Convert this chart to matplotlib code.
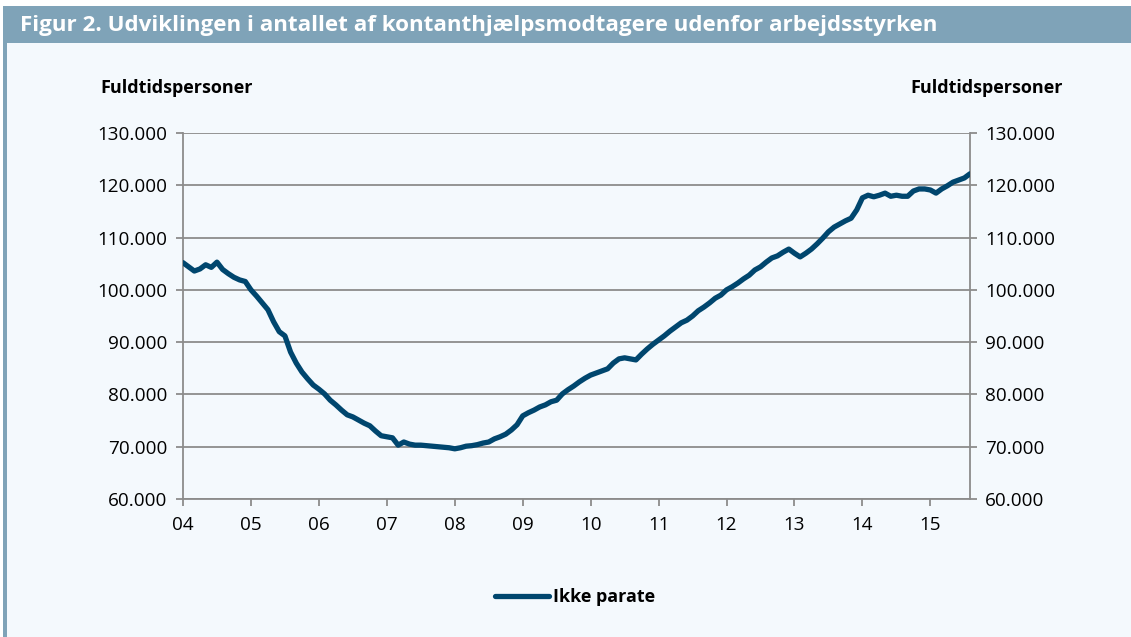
import numpy as np
import matplotlib
matplotlib.use("Agg")
import matplotlib.pyplot as plt
from matplotlib.patches import Rectangle
from matplotlib.ticker import FuncFormatter

# Ikke parate, fuldtidspersoner (1.000), monthly jan 2004 - aug 2015
ikke_parate = [
    105.2, 104.4, 103.6, 104.0, 104.8, 104.3, 105.3, 103.9, 103.1, 102.4, 101.9, 101.6,  # 04
    100.0, 98.8, 97.5, 96.2, 93.9, 92.0, 91.2, 88.1, 86.0, 84.3, 83.0, 81.8,  # 05
    81.0, 80.1, 78.9, 78.0, 77.0, 76.1, 75.7, 75.1, 74.5, 74.0, 73.0, 72.1,  # 06
    71.9, 71.7, 70.3, 70.9, 70.5, 70.3, 70.3, 70.2, 70.1, 70.0, 69.9, 69.8,  # 07
    69.6, 69.8, 70.1, 70.2, 70.4, 70.7, 70.9, 71.5, 71.9, 72.4, 73.2, 74.2,  # 08
    75.9, 76.5, 77.0, 77.6, 78.0, 78.6, 78.9, 80.1, 80.9, 81.6, 82.4, 83.1,  # 09
    83.7, 84.1, 84.5, 84.9, 86.0, 86.8, 87.0, 86.8, 86.6, 87.7, 88.7, 89.6,  # 10
    90.4, 91.2, 92.1, 92.9, 93.7, 94.2, 95.0, 96.0, 96.7, 97.5, 98.4, 99.0,  # 11
    100.0, 100.6, 101.3, 102.1, 102.8, 103.8, 104.4, 105.3, 106.1, 106.5, 107.2, 107.8,  # 12
    107.0, 106.3, 107.0, 107.8, 108.8, 109.9, 111.1, 112.0, 112.6, 113.2, 113.7, 115.3,  # 13
    117.6, 118.1, 117.8, 118.1, 118.5, 117.9, 118.1, 117.9, 117.9, 118.9, 119.3, 119.3,  # 14
    119.1, 118.5, 119.3, 119.9, 120.6, 121.0, 121.4, 122.2,  # 15
]
year_labels = ["04", "05", "06", "07", "08", "09", "10", "11", "12", "13", "14", "15"]
y_ticks = [60000, 70000, 80000, 90000, 100000, 110000, 120000, 130000]

values = np.array(ikke_parate) * 1000
months = np.arange(len(values))

bg = "#F4F9FD"
bar_col = "#7FA3B8"
line_col = "#00466E"
grid_col = "#8C8C8C"
font = "Open Sans"

fig = plt.figure(figsize=(11.31, 6.37), dpi=100)
fig.patch.set_facecolor("white")

# panel background, title band and left border
fig.patches.append(Rectangle((3 / 1131, 0), 1, 1 - 43 / 637, transform=fig.transFigure,
                             facecolor=bg, edgecolor="none", zorder=-3))
fig.patches.append(Rectangle((3 / 1131, 1 - 43 / 637), 1, 37 / 637, transform=fig.transFigure,
                             facecolor=bar_col, edgecolor="none", zorder=-2))
fig.patches.append(Rectangle((3 / 1131, 0), 4 / 1131, 1 - 6 / 637, transform=fig.transFigure,
                             facecolor=bar_col, edgecolor="none", zorder=-2))
fig.text(20 / 1131, 1 - 25 / 637, "Figur 2. Udviklingen i antallet af kontanthjælpsmodtagere udenfor arbejdsstyrken",
         color="white", fontsize=16.15, fontweight="bold", family=font, va="center", ha="left")

ax = fig.add_axes([183 / 1131, 1 - 499 / 637, (970 - 183) / 1131, (499 - 133) / 637])
ax.set_zorder(2)
ax.set_facecolor(bg)
ax.plot(months, values, color=line_col, lw=3.8, solid_joinstyle="round", solid_capstyle="round",
        label="Ikke parate", zorder=3)

ax.set_xlim(0, len(values) - 1)
ax.set_ylim(60000, 130000)
ax.set_xticks(np.arange(0, 12 * len(year_labels), 12))
ax.set_xticklabels(year_labels)
ax.set_yticks(y_ticks)
fmt = FuncFormatter(lambda v, p: f"{int(v):,}".replace(",", "."))
ax.yaxis.set_major_formatter(fmt)
ax.grid(axis="y", color=grid_col, lw=1.3)
ax.set_axisbelow(True)

for side in ["left", "right", "bottom"]:
    ax.spines[side].set_color(grid_col)
    ax.spines[side].set_linewidth(1.3)
ax.spines["top"].set_visible(False)

ax.tick_params(axis="both", colors=grid_col, labelcolor="black", labelsize=13.6, width=1.3, length=5)
ax.tick_params(axis="y", right=True, labelright=True, pad=6)
ax.tick_params(axis="x", pad=7)
for lab in ax.get_xticklabels() + ax.get_yticklabels():
    lab.set_family(font)

fig.text(100 / 1131, 1 - 88 / 637, "Fuldtidspersoner", fontsize=13, fontweight="bold", family=font,
         ha="left", va="center")
fig.text(1063 / 1131, 1 - 88 / 637, "Fuldtidspersoner", fontsize=13, fontweight="bold", family=font,
         ha="right", va="center")

leg = ax.legend(loc="center", bbox_to_anchor=(575 / 1131, 1 - 597 / 637), bbox_transform=fig.transFigure,
                frameon=False, handlelength=3.0, handletextpad=0.2,
                prop={"family": font, "weight": "bold", "size": 13})

fig.savefig("out.png", dpi=100, facecolor=fig.get_facecolor())
